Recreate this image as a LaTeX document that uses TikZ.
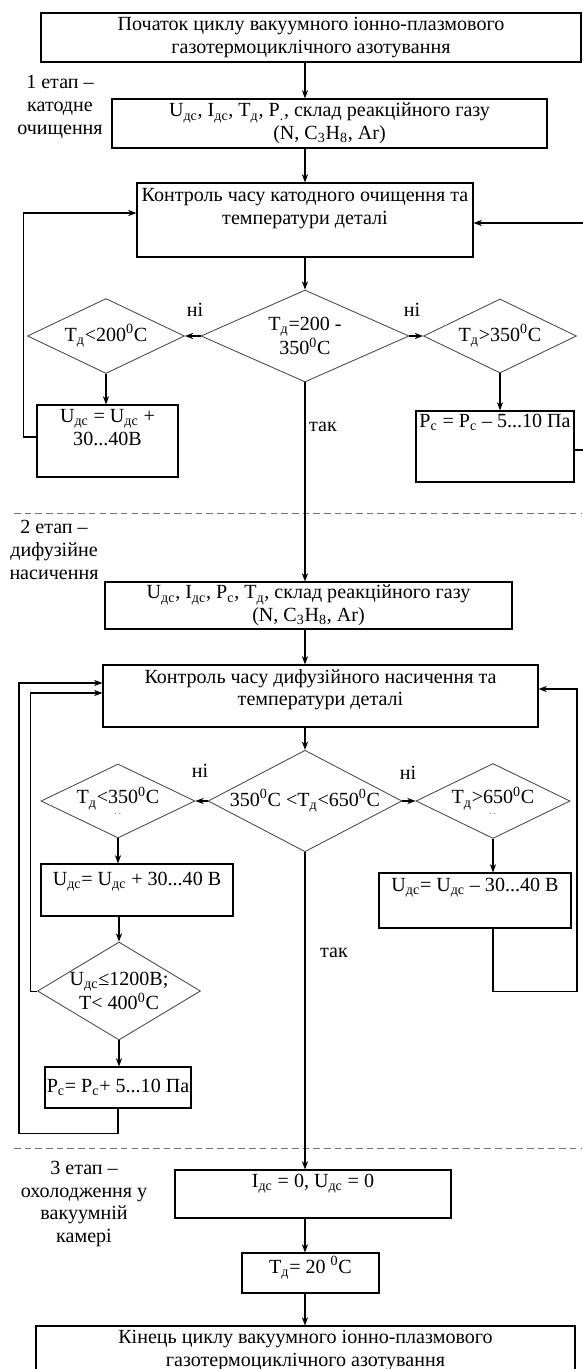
\documentclass[tikz,border=0pt]{standalone}
\usepackage{fontspec}
\setmainfont{Liberation Serif}
\usetikzlibrary{arrows.meta,positioning,shapes.geometric,calc}
\newcommand{\pxu}{0.024cm}
\newcommand{\lowidx}[1]{\textsubscript{#1}}
\newcommand{\degc}{\textsuperscript{0}C}
\tikzset{
    flowbox/.style={
        draw=black,
        line width=0.8pt,
        inner sep=0pt,
        align=center
    },
    boxsize/.style 2 args={
        minimum width=#1*\pxu,
        minimum height=#2*\pxu
    },
    flowdecision/.style={
        diamond,
        draw=black!70,
        line width=0.6pt,
        inner sep=0pt,
        align=center
    },
    flowarrow/.style={
        -{Stealth[length=2mm,width=1.5mm]},
        line width=0.7pt
    },
    stagelabel/.style={
        align=center
    },
    answerlabel/.style={
        inner sep=1pt
    },
    stageborder/.style={
        draw=black!55,
        line width=0.6pt,
        dash pattern=on 4.5pt off 2.8pt
    }
}
\begin{document}
\begin{tikzpicture}[x=\pxu, y=-\pxu, font=\fontsize{13.7}{15.5}\selectfont]
    \useasboundingbox (0,0) rectangle (582,1369);
    \coordinate (axis) at (305,0);

    % 1 етап
    \node[flowbox, boxsize={540}{49}] (start) at (311,37.5)
        {Початок циклу вакуумного іонно-плазмового\\газотермоциклічного азотування};
    \node[stagelabel] (stageone) at (60,107) {1 етап –\\катодне\\очищення};
    \node[flowbox, boxsize={435}{49}] (paramsone) at (329.5,123.5)
        {U\lowidx{дс}, I\lowidx{дс}, T\lowidx{д}, P\lowidx{.}, склад реакційного газу\\(N, C\lowidx{3}H\lowidx{8}, Ar)};
    \node[flowbox, boxsize={336}{74}] (ctrlone) at (305,220)
        {Контроль часу катодного очищення та\\температури деталі\\[3.5pt]};
    \node[flowdecision, boxsize={208}{92}, aspect=2.26] (checkone) at (305,336)
        {T\lowidx{д}=200 -\\350\degc};
    \node[flowdecision, boxsize={157}{75}, aspect=2.09] (lowtone) at (106,336) {T\lowidx{д}<200\degc};
    \node[flowdecision, boxsize={153}{74}, aspect=2.07] (hightone) at (500,336) {T\lowidx{д}>350\degc};
    \node[flowbox, boxsize={141}{72}] (raisevone) at (107.5,441)
        {U\lowidx{дс} = U\lowidx{дс} +\\30...40В\\[3pt]};
    \node[flowbox, boxsize={158}{71}] (lowerpone) at (495,446.5)
        {P\lowidx{с} = P\lowidx{с} – 5...10 Па\\[20pt]};
    \node[answerlabel] (noleftone) at (195,310) {ні};
    \node[answerlabel] (norightone) at (412,310) {ні};
    \node[answerlabel] (yesone) at (323,427) {так};

    \draw[flowarrow] (start.south -| axis) -- (paramsone.north -| axis);
    \draw[flowarrow] (paramsone.south -| axis) -- (ctrlone.north -| axis);
    \draw[flowarrow] (ctrlone.south) -- (checkone.north);
    \draw[flowarrow] (checkone.west) -- (lowtone.east);
    \draw[flowarrow] (checkone.east) -- (hightone.west);
    \draw[flowarrow] (lowtone.south) -- (raisevone.north -| lowtone.south);
    \draw[flowarrow] (hightone.south) -- (lowerpone.north -| hightone.south);
    \draw[flowarrow] ($(raisevone.west)+(0,-4)$) -- ++(-13,0) |- ($(ctrlone.west)+(0,-7)$);
    \draw[flowarrow] ($(lowerpone.east)+(0,3.5)$) -- ++(16,0) |- ($(ctrlone.east)+(0,3)$);

    \draw[stageborder] (14,513) -- (582,513);

    % 2 етап
    \node[stagelabel] (stagetwo) at (54,550) {2 етап –\\дифузійне\\насичення};
    \node[flowbox, boxsize={407}{47}] (paramstwo) at (308.5,605.5)
        {U\lowidx{дс}, I\lowidx{дс}, P\lowidx{с}, T\lowidx{д}, склад реакційного газу\\(N, C\lowidx{3}H\lowidx{8}, Ar)};
    \node[flowbox, boxsize={435}{62}] (ctrltwo) at (320.5,696)
        {Контроль часу дифузійного насичення та\\температури деталі\\[-4pt]};
    \node[flowdecision, boxsize={193}{101}, aspect=1.91] (checktwo) at (305,801)
        {350\degc{} <T\lowidx{д}<650\degc};
    \node[flowdecision, boxsize={154}{74}, aspect=2.08] (lowttwo) at (118,801)
        {T\lowidx{д}<350\degc\\[-8pt]{\tiny .\,\,.}};
    \node[flowdecision, boxsize={154}{75}, aspect=2.05] (highttwo) at (493,801)
        {T\lowidx{д}>650\degc\\[-8pt]{\tiny .\,\,.}};
    \node[flowbox, boxsize={192}{52}] (raisevtwo) at (137,890)
        {U\lowidx{дс}= U\lowidx{дс} + 30...40 В\\[0pt]};
    \node[flowbox, boxsize={192}{55}] (lowervtwo) at (475,900.5)
        {U\lowidx{дс}= U\lowidx{дс} – 30...40 В\\[6pt]};
    \node[flowdecision, boxsize={163}{98}, aspect=1.66, inner sep=-2pt] (limitcheck) at (119,991)
        {U\lowidx{дс}≤1200В;\\T< 400\degc};
    \node[flowbox, boxsize={146}{41}] (raiseptwo) at (118,1087.5)
        {P\lowidx{с}= P\lowidx{с}+ 5...10 Па};
    \node[answerlabel] (nolefttwo) at (200,771) {ні};
    \node[answerlabel] (norighttwo) at (408,773) {ні};
    \node[answerlabel] (yestwo) at (334,953) {так};

    \draw[flowarrow] (checkone.south) -- (paramstwo.north -| checkone.south);
    \draw[flowarrow] (paramstwo.south -| axis) -- (ctrltwo.north -| axis);
    \draw[flowarrow] (ctrltwo.south -| axis) -- (checktwo.north);
    \draw[flowarrow] (checktwo.west) -- (lowttwo.east);
    \draw[flowarrow] (checktwo.east) -- (highttwo.west);
    \draw[flowarrow] (lowttwo.south) -- (raisevtwo.north -| lowttwo.south);
    \draw[flowarrow] (highttwo.south) -- (lowervtwo.north -| highttwo.south);
    \draw[flowarrow] (raisevtwo.south -| limitcheck.north) -- (limitcheck.north);
    \draw[flowarrow] (limitcheck.south) -- (raiseptwo.north -| limitcheck.south);
    \draw[flowarrow] (lowervtwo.south -| highttwo.south) -- ++(0,63) -- ++(84,0) |- ($(ctrltwo.east)+(0,-7)$);
    \draw[flowarrow] (limitcheck.west) -- ++(-7,0) |- ($(ctrltwo.west)+(0,-3)$);
    \draw[flowarrow] (raiseptwo.south) -- ++(0,25) -- ++(-99,0) |- ($(ctrltwo.west)+(0,-13)$);

    \draw[stageborder] (14,1148) -- (582,1148);

    % 3 етап
    \node[stagelabel] (stagethree) at (84,1204) {3 етап –\\охолодження у\\вакуумній\\камері};
    \node[flowbox, boxsize={276}{48}] (cooloff) at (313,1194)
        {I\lowidx{дс} = 0, U\lowidx{дс} = 0\\[3pt]};
    \node[flowbox, boxsize={137}{40}] (roomtemp) at (310.5,1273)
        {T\lowidx{д}= 20 \degc\\[-4pt]};
    \node[flowbox, boxsize={539}{49}] (finish) at (305.5,1350.5)
        {Кінець циклу вакуумного іонно-плазмового\\газотермоциклічного азотування};

    \draw[flowarrow] (checktwo.south) -- (cooloff.north -| checktwo.south);
    \draw[flowarrow] (cooloff.south -| axis) -- (roomtemp.north -| axis);
    \draw[flowarrow] (roomtemp.south -| axis) -- (finish.north -| axis);
\end{tikzpicture}
\end{document}
